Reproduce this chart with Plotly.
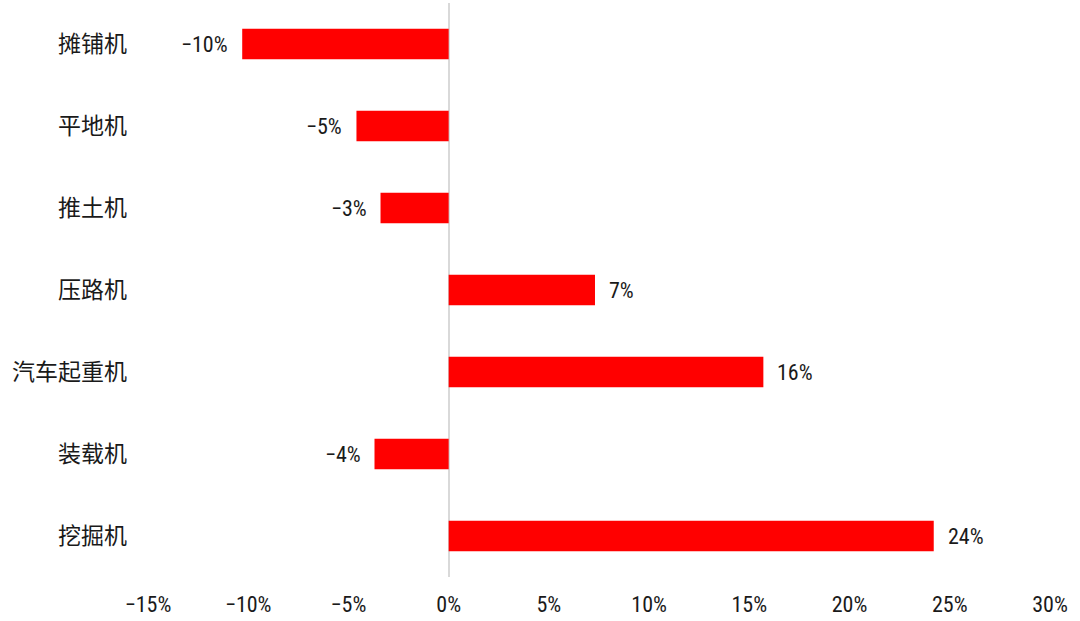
import plotly.graph_objects as go

categories = ["挖掘机", "装载机", "汽车起重机", "压路机", "推土机", "平地机", "摊铺机"]
values = [24.2, -3.7, 15.7, 7.3, -3.4, -4.6, -10.3]
tick_vals = [-15, -10, -5, 0, 5, 10, 15, 20, 25, 30]

def fmt(v):
    r = int(round(v))
    return ("\u2212" if r < 0 else "") + f"{abs(r)}%"

tick_text = [fmt(t) for t in tick_vals]
num_font = "Liberation Sans Narrow, Arial Narrow, Roboto Condensed, sans-serif"

fig = go.Figure(go.Bar(
    x=values, y=categories, orientation="h",
    marker=dict(color="#FF0000", line=dict(width=0)),
    width=0.37,
))

for c, v in zip(categories, values):
    fig.add_annotation(
        x=v, y=c, text=fmt(v), showarrow=False,
        xanchor="left" if v >= 0 else "right",
        xshift=12 if v >= 0 else -12,
        font=dict(family=num_font, size=22, color="#1a1a1a"),
    )

fig.update_layout(
    width=1080, height=621,
    margin=dict(l=148, r=30, t=3, b=44),
    paper_bgcolor="white", plot_bgcolor="white",
    showlegend=False,
    xaxis=dict(
        range=[-15, 30], tickvals=tick_vals, ticktext=tick_text,
        showgrid=False, zeroline=True, zerolinecolor="#d9d9d9", zerolinewidth=1.5,
        showline=False, ticks="", ticklabelstandoff=12, automargin=False,
        tickfont=dict(family=num_font, size=22, color="#1a1a1a"),
    ),
    yaxis=dict(
        categoryorder="array", categoryarray=categories,
        range=[-0.5, 6.5],
        showgrid=False, zeroline=False, showline=False, ticks="",
        ticklabelstandoff=20, automargin=False,
        tickfont=dict(family="Noto Sans CJK SC, sans-serif", size=23, color="#1a1a1a"),
    ),
)

fig.write_html(
    "out.html",
    config={"displayModeBar": False},
    post_script="document.body.style.margin='0';document.body.style.overflow='hidden';",
)
